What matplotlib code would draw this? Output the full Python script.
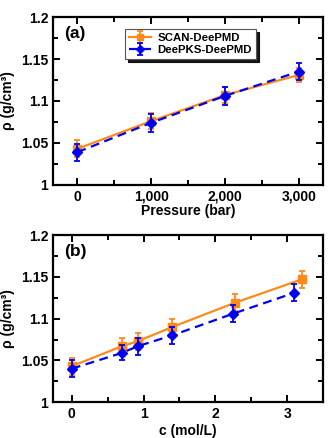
import matplotlib
matplotlib.use("Agg")
import matplotlib.pyplot as plt
from matplotlib.ticker import MultipleLocator, FuncFormatter

plt.rcParams['font.family'] = ['Liberation Sans', 'DejaVu Sans']
plt.rcParams['font.weight'] = 'bold'

# Panel (a) data
pressure = [0, 1000, 2000, 3000]
scan_a = [1.043, 1.076, 1.107, 1.131]
scan_a_err = [0.010, 0.010, 0.010, 0.008]
deepks_a = [1.039, 1.074, 1.106, 1.135]
deepks_a_err = [0.010, 0.011, 0.011, 0.010]

# Panel (b) data
conc_scan = [0.0, 0.7, 0.92, 1.4, 2.27, 3.2]
scan_b = [1.043, 1.067, 1.073, 1.090, 1.119, 1.147]
scan_b_err = [0.010, 0.010, 0.010, 0.010, 0.010, 0.010]
conc_deepks = [0.0, 0.7, 0.92, 1.4, 2.25, 3.1]
deepks_b = [1.040, 1.059, 1.067, 1.080, 1.106, 1.131]
deepks_b_err = [0.010, 0.009, 0.010, 0.010, 0.010, 0.010]

orange = '#FF8A1C'
blue = '#0000F0'

fig = plt.figure(figsize=(3.32, 4.38), dpi=100)
axa = fig.add_axes([0.160, 0.578, 0.813, 0.383])
axb = fig.add_axes([0.160, 0.082, 0.813, 0.381])

def style(ax):
    for s in ax.spines.values():
        s.set_linewidth(1.6)
    ax.tick_params(which='both', direction='in', top=True, right=True, width=1.4,
                   labelsize=10)
    ax.tick_params(which='major', length=5)
    ax.tick_params(which='minor', length=3.5)
    ax.set_ylim(1.0, 1.2)
    ax.yaxis.set_major_locator(MultipleLocator(0.05))
    ax.yaxis.set_minor_locator(MultipleLocator(0.025))
    ax.yaxis.set_major_formatter(FuncFormatter(lambda v, p: f"{v:g}"))
    ax.set_ylabel('ρ (g/cm³)', fontsize=10, fontweight='bold', labelpad=4)

# Panel (a)
axa.errorbar(pressure, scan_a, yerr=scan_a_err, color=orange, marker='s', ms=5.5,
             lw=1.6, capsize=2.5, elinewidth=1.3, capthick=1.3, label='SCAN-DeePMD', zorder=2)
axa.errorbar(pressure, deepks_a, yerr=deepks_a_err, color=blue, marker='D', ms=5,
             lw=1.6, ls=(0, (4, 2.5)), capsize=2.5, elinewidth=1.3, capthick=1.3,
             label='DeePKS-DeePMD', zorder=3)
axa.set_xlim(-330, 3330)
axa.xaxis.set_major_locator(MultipleLocator(1000))
axa.xaxis.set_minor_locator(MultipleLocator(500))
axa.xaxis.set_major_formatter(FuncFormatter(lambda v, p: f"{int(v):,}"))
style(axa)
axa.set_xlabel('Pressure (bar)', fontsize=10, fontweight='bold', labelpad=0)
axa.text(0.04, 0.945, '(a)', transform=axa.transAxes, fontsize=12.5, fontweight='bold',
         va='top', ha='left')
leg = axa.legend(loc='upper left', bbox_to_anchor=(0.267, 0.93), fontsize=8.2,
                 frameon=True, fancybox=False,
                 shadow={'color': 'black', 'alpha': 0.9, 'ox': 2, 'oy': -2},
                 borderpad=0.35, handlelength=1.9, handletextpad=0.6,
                 labelspacing=0.2, borderaxespad=0, markerscale=0.85)
leg.get_frame().set_edgecolor('#555555')
leg.get_frame().set_linewidth(0.8)
leg.get_frame().set_alpha(1)

# Panel (b)
axb.errorbar(conc_scan, scan_b, yerr=scan_b_err, color=orange, marker='s', ms=5.5,
             lw=1.6, capsize=2.5, elinewidth=1.3, capthick=1.3, zorder=2)
axb.errorbar(conc_deepks, deepks_b, yerr=deepks_b_err, color=blue, marker='D', ms=5,
             lw=1.6, ls=(0, (4, 2.5)), capsize=2.5, elinewidth=1.3, capthick=1.3, zorder=3)
axb.set_xlim(-0.26, 3.5)
axb.xaxis.set_major_locator(MultipleLocator(1))
axb.xaxis.set_minor_locator(MultipleLocator(0.5))
style(axb)
axb.set_xlabel('c (mol/L)', fontsize=10, fontweight='bold', labelpad=2)
axb.text(0.04, 0.945, '(b)', transform=axb.transAxes, fontsize=12.5, fontweight='bold',
         va='top', ha='left')

fig.savefig('out.png', dpi=100)
